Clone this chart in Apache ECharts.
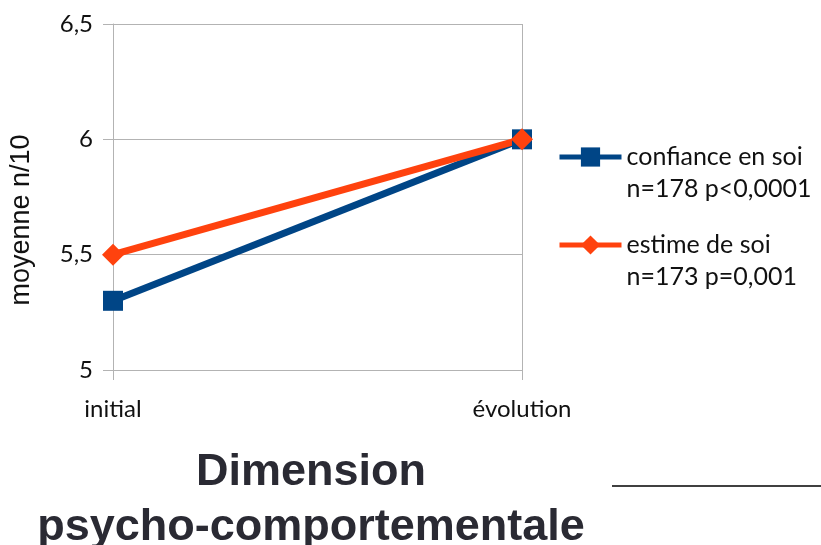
<!DOCTYPE html>
<html><head><meta charset="utf-8">
<script src="https://cdn.jsdelivr.net/npm/echarts@6/dist/echarts.min.js"></script>
<style>html,body{margin:0;padding:0;background:#fff}#c{width:821px;height:545px}</style>
</head><body><div id="c"></div>
<script>
const categories = ['initial', 'évolution'];
const confianceValues = [5.3, 6.0];
const estimeValues = [5.5, 6.0];
const seriesNames = ['confiance en soi\nn=178 p<0,0001', 'estime de soi\nn=173 p=0,001'];
const yTicks = { min: 5, max: 6.5, interval: 0.5 };

const chart = echarts.init(document.getElementById('c'), null, { renderer: 'canvas' });
const font = 'Lato, "Open Sans", sans-serif';
chart.setOption({
  animation: false,
  title: {
    text: 'Dimension\npsycho-comportementale',
    left: 306, top: 440, textAlign: 'center',
    textStyle: { fontFamily: '"Liberation Sans", Arial, sans-serif', fontWeight: 'bold', fontSize: 45, lineHeight: 55, color: '#2a2a33' }
  },
  grid: { left: 113, right: 299, top: 24, bottom: 175 },
  legend: {
    orient: 'vertical', left: 552, top: 104,
    itemWidth: 62, itemHeight: 24, itemGap: -8,
    lineStyle: { width: 5 },
    formatter: name => ' \n' + name,
    textStyle: { fontFamily: font, fontSize: 25, lineHeight: 32, color: '#111' },
    data: seriesNames
  },
  xAxis: {
    type: 'category', data: categories, boundaryGap: false,
    axisLine: { lineStyle: { color: '#b3b3b3', width: 1 } },
    axisTick: { show: true, length: 10, lineStyle: { color: '#b3b3b3' } },
    splitLine: { show: true, lineStyle: { color: '#b3b3b3', width: 1 } },
    axisLabel: { fontFamily: font, fontSize: 24, color: '#111', margin: 27 }
  },
  yAxis: {
    type: 'value', min: yTicks.min, max: yTicks.max, interval: yTicks.interval,
    name: 'moyenne n/10', nameLocation: 'middle', nameGap: 78, nameRotate: 90,
    nameTextStyle: { fontFamily: '"Liberation Sans", Arial, sans-serif', fontSize: 27, color: '#111', padding: [0, 46, 0, 0] },
    axisLine: { show: true, lineStyle: { color: '#b3b3b3' } },
    axisTick: { show: true, length: 10, lineStyle: { color: '#b3b3b3' } },
    splitLine: { lineStyle: { color: '#b3b3b3', width: 1 } },
    axisLabel: { fontFamily: font, fontSize: 24, color: '#111', margin: 20,
      formatter: v => String(v).replace('.', ',') }
  },
  series: [
    { name: seriesNames[0], type: 'line', data: confianceValues,
      symbol: 'rect', symbolSize: 20,
      lineStyle: { color: '#004586', width: 7 },
      itemStyle: { color: '#004586' } },
    { name: seriesNames[1], type: 'line', data: estimeValues,
      symbol: 'diamond', symbolSize: 22,
      lineStyle: { color: '#ff420e', width: 7 },
      itemStyle: { color: '#ff420e' } }
  ],
  graphic: [
    { type: 'line', shape: { x1: 612, y1: 486, x2: 821, y2: 486 }, style: { stroke: '#000', lineWidth: 1.5 } }
  ]
});
</script></body></html>
